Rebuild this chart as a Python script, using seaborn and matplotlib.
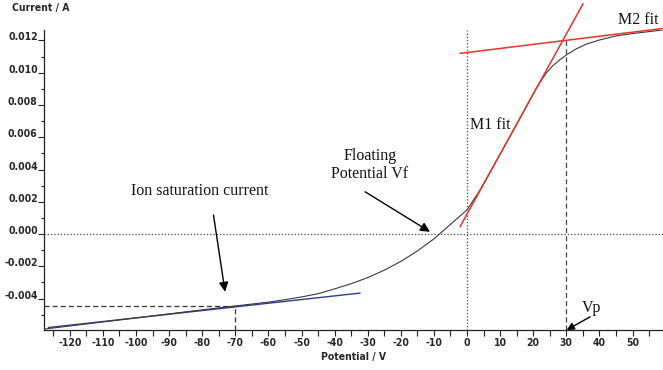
import matplotlib
matplotlib.use("Agg")
import matplotlib.pyplot as plt
from matplotlib import font_manager
from matplotlib.ticker import MultipleLocator, FixedLocator
import seaborn as sns
import pandas as pd

# ---- data ----
potential = [-128, -120, -110, -100, -90, -80, -70, -60, -55, -50, -45, -40, -35,
             -30, -25, -20, -15, -10, -5, 0, 4, 10, 15, 20, 22, 24, 26, 28, 30,
             33, 36, 40, 45, 50, 55, 59]
current = [-0.0059, -0.0057, -0.00545, -0.0052, -0.00495, -0.0047, -0.00446,
           -0.00422, -0.00407, -0.0039, -0.0037, -0.0034, -0.00308, -0.0027,
           -0.00224, -0.0017, -0.00105, -0.0003, 0.0006, 0.0015, 0.00275,
           0.00496, 0.0068, 0.0087, 0.0094, 0.0100, 0.01045, 0.0108, 0.0111,
           0.01148, 0.01177, 0.01203, 0.01228, 0.01243, 0.01255, 0.01265]

ion_fit_x = [-126.5, -32.3]
ion_fit_y = [-0.0058, -0.00366]
m1_fit_x = [-2.1, 35.05]
m1_fit_y = [0.000457, 0.01428]
m2_fit_x = [-2.1, 59.3]
m2_fit_y = [0.0112, 0.01275]

ion_sat_v, ion_sat_i = -70, -0.00446
vp_v, vp_i = 29.8, 0.01203

x_ticks = list(range(-120, 51, 10))
y_ticks = [-0.004, -0.002, 0.000, 0.002, 0.004, 0.006, 0.008, 0.010, 0.012]
y_tick_labels = ["-0.004", "-0.002", "0.000", "0.002", "0.004", "0.006",
                 "0.008", "0.010", "0.012"]

# ---- fonts ----
serif = "Liberation Serif"
cond = [f for f in font_manager.fontManager.ttflist
        if f.stretch in ("condensed", "semi-condensed", "extra-condensed")
        and f.name in ("DejaVu Sans", "Liberation Sans", "Liberation Sans Narrow",
                       "Roboto", "Open Sans", "Noto Sans", "Lato", "Inter",
                       "DejaVu Sans Condensed", "Roboto Condensed")]
if cond:
    tick_family = cond[0].name
    tick_stretch = cond[0].stretch
else:
    tick_family = "Liberation Sans"
    tick_stretch = "normal"

sns.set_style("ticks")
plt.rcParams["font.family"] = [tick_family, "DejaVu Sans"]
plt.rcParams["font.stretch"] = tick_stretch
plt.rcParams["axes.unicode_minus"] = False

fig = plt.figure(figsize=(6.63, 3.70), dpi=100)
ax = fig.add_axes([44 / 663, 1 - 330 / 370, 1 - 44 / 663, 300 / 370])
ax.set_facecolor("white")

df = pd.DataFrame({"Potential": potential, "Current": current})
sns.lineplot(data=df, x="Potential", y="Current", ax=ax, color="#3a3a3a",
             lw=0.8, sort=False, zorder=3)

# fits
ax.plot(ion_fit_x, ion_fit_y, color="#2b3990", lw=1.0, zorder=2)
ax.plot(m1_fit_x, m1_fit_y, color="#e8322b", lw=1.1, zorder=4, clip_on=False)
ax.plot(m2_fit_x, m2_fit_y, color="#e8322b", lw=1.1, zorder=4, clip_on=False)

xlim = (-127.8, 59.2)
ylim = (-0.00595, 0.01265)

# reference lines
ax.axhline(0, color="#444444", lw=0.9, ls=(0, (1, 1.6)), zorder=1)
ax.axvline(0, color="#444444", lw=0.9, ls=(0, (1, 1.6)), zorder=1)
ax.plot([xlim[0], ion_sat_v], [ion_sat_i, ion_sat_i], color="#333333", lw=0.9,
        ls=(0, (4, 2.5)), zorder=1)
ax.plot([ion_sat_v, ion_sat_v], [ylim[0], ion_sat_i], color="#333333", lw=0.9,
        ls=(0, (4, 2.5)), zorder=1)
ax.plot([vp_v, vp_v], [ylim[0], vp_i], color="#444444", lw=0.9,
        ls=(0, (4, 2.5)), zorder=1)

ax.set_xlim(*xlim)
ax.set_ylim(*ylim)

# axes styling
for s in ["top", "right"]:
    ax.spines[s].set_visible(False)
for s in ["left", "bottom"]:
    ax.spines[s].set_color("#222222")
    ax.spines[s].set_linewidth(0.9)

ax.xaxis.set_major_locator(FixedLocator(x_ticks))
ax.xaxis.set_minor_locator(MultipleLocator(5))
ax.set_xticklabels([str(v) for v in x_ticks])
ax.yaxis.set_major_locator(FixedLocator(y_ticks))
ax.yaxis.set_minor_locator(MultipleLocator(0.001))
ax.set_yticklabels(y_tick_labels)

lab_size = 7.5 if tick_stretch != "normal" else 7
ax.tick_params(axis="x", which="both", direction="out", length=4, width=0.8,
               color="#222222", pad=1.5, labelsize=lab_size)
ax.tick_params(axis="y", which="major", direction="out", length=4, width=0.8,
               color="#222222", pad=0.5, labelsize=lab_size)
ax.tick_params(axis="y", which="minor", direction="out", length=2, width=0.8,
               color="#222222")
for t in ax.get_xticklabels() + ax.get_yticklabels():
    t.set_fontweight("bold")
    t.set_fontstretch(tick_stretch)
for t in ax.get_yticklabels():
    t.set_va("baseline")

ax.set_xlabel("Potential / V", fontsize=lab_size, fontweight="bold", labelpad=3,
              fontstretch=tick_stretch)
ax.set_ylabel("")
fig.text(12 / 663, 1 - 8 / 370, "Current / A", fontsize=lab_size,
         fontweight="bold", ha="left", va="center", fontstretch=tick_stretch)

# annotations
arrow = dict(arrowstyle="-|>", color="black", lw=1.0, mutation_scale=14,
             shrinkA=0, shrinkB=0)
tkw = dict(family=serif, fontsize=11.5, color="#111111")

ax.text(-80.7, 0.00268, "Ion saturation current", ha="center", va="center", **tkw)
ax.annotate("", xy=(-73.1, -0.00358), xytext=(-76.6, 0.00118), arrowprops=arrow)

ax.text(-29.3, 0.00428, "Floating\nPotential Vf", ha="center", va="center",
        linespacing=1.15, **tkw)
ax.annotate("", xy=(-11.2, 0.00014), xytext=(-30.8, 0.00262), arrowprops=arrow)

ax.text(0.9, 0.00676, "M1 fit", ha="left", va="center", **tkw)
ax.text(45.6, 0.01327, "M2 fit", ha="left", va="center", clip_on=False, **tkw)

ax.text(37.5, -0.00459, "Vp", ha="center", va="center", **tkw)
ax.annotate("", xy=(30.1, -0.00595), xytext=(37.2, -0.00513),
            arrowprops=dict(arrow, mutation_scale=11), annotation_clip=False)

fig.savefig("out.png", dpi=100, facecolor="white")
